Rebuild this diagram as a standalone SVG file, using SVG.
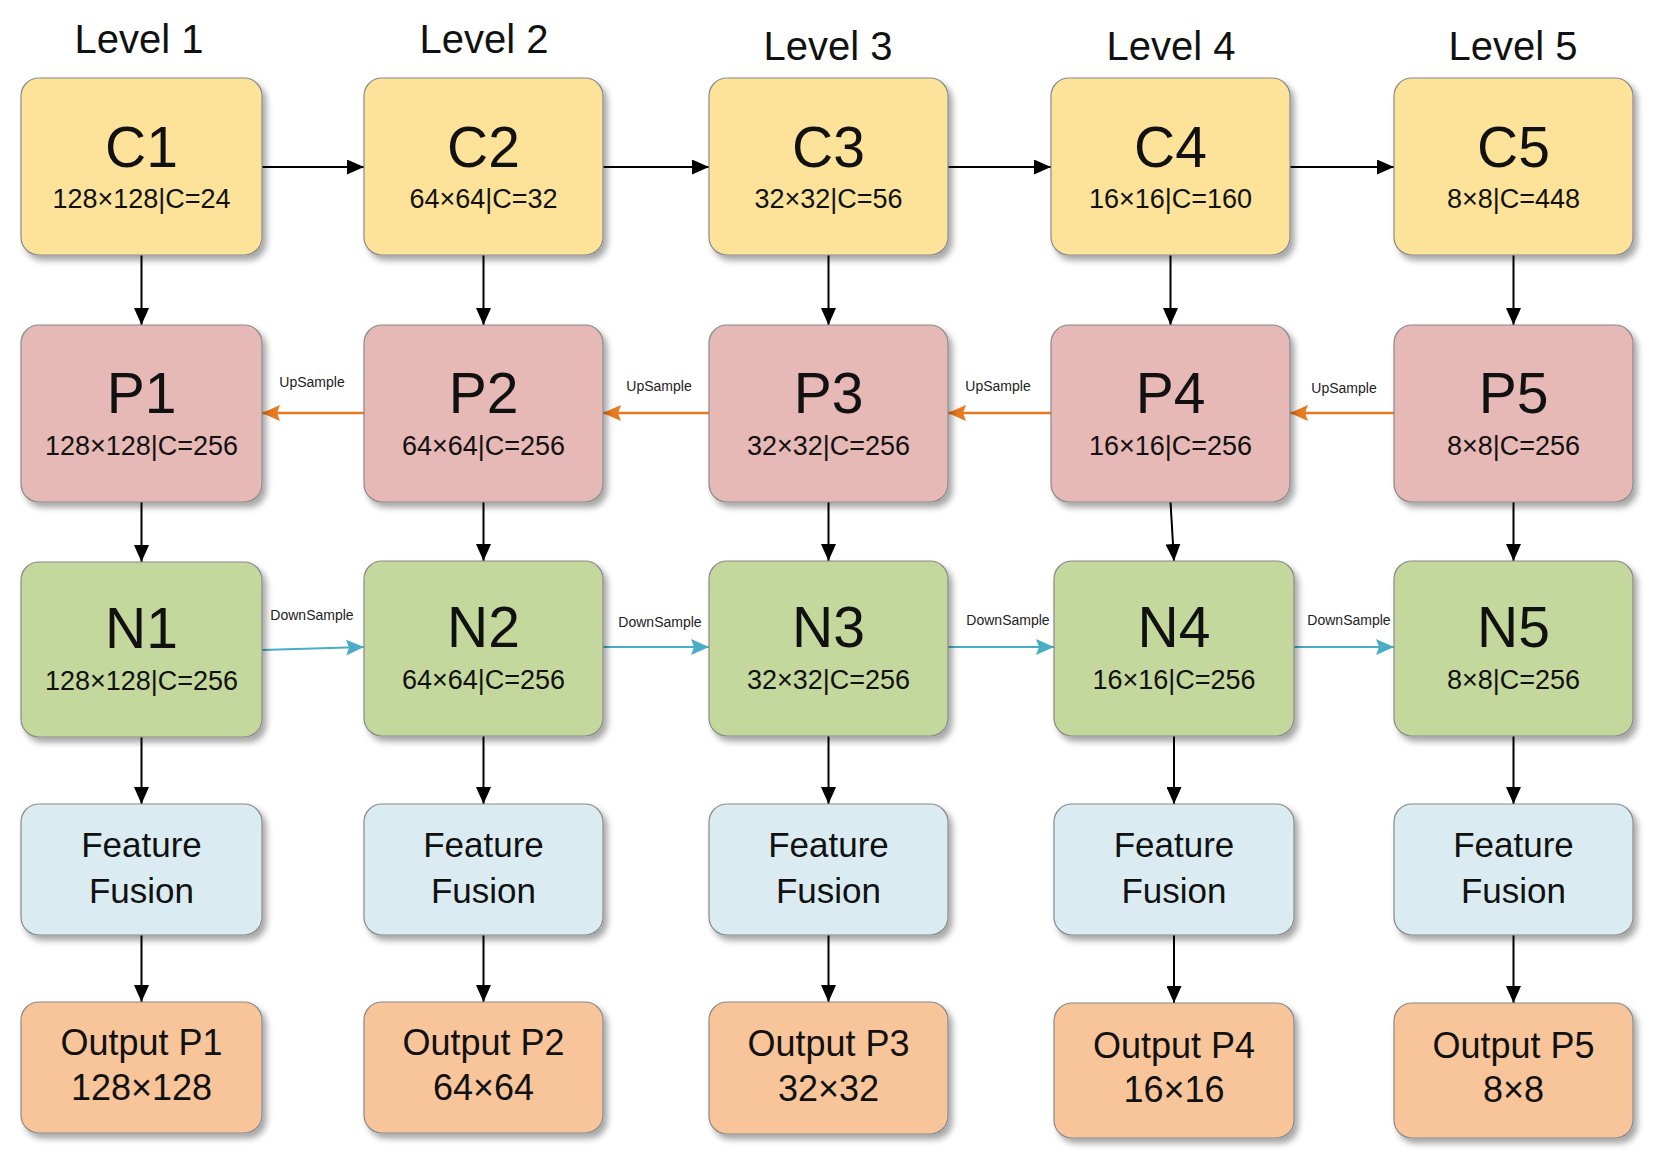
<svg xmlns="http://www.w3.org/2000/svg" width="1665" height="1173" viewBox="0 0 1665 1173">
<style>
text{font-family:"Liberation Sans",Arial,sans-serif;fill:#111;text-anchor:middle}
.lvl{font-size:40px}
.big{font-size:57px}
.sub{font-size:27px}
.ff{font-size:35px}
.out{font-size:36px}
.lab{font-size:14px;fill:#222}
.box{stroke:#8a8a8a;stroke-width:1.2;filter:url(#sh)}
.c{fill:#FDE39A}.p{fill:#E6B8B6}.n{fill:#C4D79C}.f{fill:#DAECF2}.o{fill:#F8C59B}
.blk{stroke:#000;stroke-width:2;fill:none;marker-end:url(#ab)}
.up{stroke:#E97A1F;stroke-width:2.5;fill:none;marker-end:url(#ao)}
.dn{stroke:#4BACC6;stroke-width:2.2;fill:none;marker-end:url(#ac)}
</style>
<defs>
<filter id="sh" x="-10%" y="-10%" width="125%" height="130%">
<feDropShadow dx="4" dy="5" stdDeviation="3" flood-color="#000" flood-opacity="0.35"/>
</filter>
<marker id="ab" markerUnits="userSpaceOnUse" viewBox="0 0 17 15" refX="17" refY="7.5" markerWidth="17" markerHeight="15" orient="auto"><path d="M0,0 L17,7.5 L0,15 z" fill="#000"/></marker>
<marker id="ao" markerUnits="userSpaceOnUse" viewBox="0 0 18 16" refX="18" refY="8" markerWidth="18" markerHeight="16" orient="auto"><path d="M0,0 L18,8 L0,16 L3,8 z" fill="#E97A1F"/></marker>
<marker id="ac" markerUnits="userSpaceOnUse" viewBox="0 0 18 16" refX="18" refY="8" markerWidth="18" markerHeight="16" orient="auto"><path d="M0,0 L18,8 L0,16 L3,8 z" fill="#4BACC6"/></marker>
</defs>
<rect width="1665" height="1173" fill="#fff"/>

<g id="levels">
<text class="lvl" x="139" y="53">Level 1</text>
<text class="lvl" x="484" y="53">Level 2</text>
<text class="lvl" x="828" y="60">Level 3</text>
<text class="lvl" x="1171" y="60">Level 4</text>
<text class="lvl" x="1513" y="60">Level 5</text>
</g>

<g id="connectors">
<line class="blk" x1="262" y1="167" x2="364" y2="167"/>
<line class="blk" x1="603" y1="167" x2="709" y2="167"/>
<line class="blk" x1="948" y1="167" x2="1051" y2="167"/>
<line class="blk" x1="1290" y1="167" x2="1394" y2="167"/>

<line class="blk" x1="141.5" y1="255" x2="141.5" y2="325"/>
<line class="blk" x1="483.5" y1="255" x2="483.5" y2="325"/>
<line class="blk" x1="828.5" y1="255" x2="828.5" y2="325"/>
<line class="blk" x1="1170.5" y1="255" x2="1170.5" y2="325"/>
<line class="blk" x1="1513.5" y1="255" x2="1513.5" y2="325"/>

<line class="blk" x1="141.5" y1="502" x2="141.5" y2="562"/>
<line class="blk" x1="483.5" y1="502" x2="483.5" y2="561"/>
<line class="blk" x1="828.5" y1="502" x2="828.5" y2="561"/>
<line class="blk" x1="1170.5" y1="502" x2="1174" y2="561"/>
<line class="blk" x1="1513.5" y1="502" x2="1513.5" y2="561"/>

<line class="blk" x1="141.5" y1="737" x2="141.5" y2="804"/>
<line class="blk" x1="483.5" y1="736" x2="483.5" y2="804"/>
<line class="blk" x1="828.5" y1="736" x2="828.5" y2="804"/>
<line class="blk" x1="1174" y1="736" x2="1174" y2="804"/>
<line class="blk" x1="1513.5" y1="736" x2="1513.5" y2="804"/>

<line class="blk" x1="141.5" y1="935" x2="141.5" y2="1002"/>
<line class="blk" x1="483.5" y1="935" x2="483.5" y2="1002"/>
<line class="blk" x1="828.5" y1="935" x2="828.5" y2="1002"/>
<line class="blk" x1="1174" y1="935" x2="1174" y2="1003"/>
<line class="blk" x1="1513.5" y1="935" x2="1513.5" y2="1003"/>

<line class="up" x1="364" y1="413" x2="262" y2="413"/>
<line class="up" x1="709" y1="413" x2="603" y2="413"/>
<line class="up" x1="1051" y1="413" x2="948" y2="413"/>
<line class="up" x1="1394" y1="413" x2="1290" y2="413"/>
<text class="lab" x="312" y="387">UpSample</text>
<text class="lab" x="659" y="391">UpSample</text>
<text class="lab" x="998" y="391">UpSample</text>
<text class="lab" x="1344" y="393">UpSample</text>

<line class="dn" x1="262" y1="650" x2="364" y2="647"/>
<line class="dn" x1="603" y1="647" x2="709" y2="647"/>
<line class="dn" x1="948" y1="647" x2="1054" y2="647"/>
<line class="dn" x1="1294" y1="647" x2="1394" y2="647"/>
<text class="lab" x="312" y="620">DownSample</text>
<text class="lab" x="660" y="627">DownSample</text>
<text class="lab" x="1008" y="625">DownSample</text>
<text class="lab" x="1349" y="625">DownSample</text>
</g>

<g id="C1"><rect class="box c" x="21" y="78" width="241" height="177" rx="18"/><text class="big" x="141.5" y="167">C1</text><text class="sub" x="141.5" y="208">128×128|C=24</text></g>
<g id="C2"><rect class="box c" x="364" y="78" width="239" height="177" rx="18"/><text class="big" x="483.5" y="167">C2</text><text class="sub" x="483.5" y="208">64×64|C=32</text></g>
<g id="C3"><rect class="box c" x="709" y="78" width="239" height="177" rx="18"/><text class="big" x="828.5" y="167">C3</text><text class="sub" x="828.5" y="208">32×32|C=56</text></g>
<g id="C4"><rect class="box c" x="1051" y="78" width="239" height="177" rx="18"/><text class="big" x="1170.5" y="167">C4</text><text class="sub" x="1170.5" y="208">16×16|C=160</text></g>
<g id="C5"><rect class="box c" x="1394" y="78" width="239" height="177" rx="18"/><text class="big" x="1513.5" y="167">C5</text><text class="sub" x="1513.5" y="208">8×8|C=448</text></g>

<g id="P1"><rect class="box p" x="21" y="325" width="241" height="177" rx="18"/><text class="big" x="141.5" y="413">P1</text><text class="sub" x="141.5" y="455">128×128|C=256</text></g>
<g id="P2"><rect class="box p" x="364" y="325" width="239" height="177" rx="18"/><text class="big" x="483.5" y="413">P2</text><text class="sub" x="483.5" y="455">64×64|C=256</text></g>
<g id="P3"><rect class="box p" x="709" y="325" width="239" height="177" rx="18"/><text class="big" x="828.5" y="413">P3</text><text class="sub" x="828.5" y="455">32×32|C=256</text></g>
<g id="P4"><rect class="box p" x="1051" y="325" width="239" height="177" rx="18"/><text class="big" x="1170.5" y="413">P4</text><text class="sub" x="1170.5" y="455">16×16|C=256</text></g>
<g id="P5"><rect class="box p" x="1394" y="325" width="239" height="177" rx="18"/><text class="big" x="1513.5" y="413">P5</text><text class="sub" x="1513.5" y="455">8×8|C=256</text></g>

<g id="N1"><rect class="box n" x="21" y="562" width="241" height="175" rx="18"/><text class="big" x="141.5" y="648">N1</text><text class="sub" x="141.5" y="690">128×128|C=256</text></g>
<g id="N2"><rect class="box n" x="364" y="561" width="239" height="175" rx="18"/><text class="big" x="483.5" y="647">N2</text><text class="sub" x="483.5" y="689">64×64|C=256</text></g>
<g id="N3"><rect class="box n" x="709" y="561" width="239" height="175" rx="18"/><text class="big" x="828.5" y="647">N3</text><text class="sub" x="828.5" y="689">32×32|C=256</text></g>
<g id="N4"><rect class="box n" x="1054" y="561" width="240" height="175" rx="18"/><text class="big" x="1174" y="647">N4</text><text class="sub" x="1174" y="689">16×16|C=256</text></g>
<g id="N5"><rect class="box n" x="1394" y="561" width="239" height="175" rx="18"/><text class="big" x="1513.5" y="647">N5</text><text class="sub" x="1513.5" y="689">8×8|C=256</text></g>

<g id="FF1"><rect class="box f" x="21" y="804" width="241" height="131" rx="18"/><text class="ff" x="141.5" y="857">Feature</text><text class="ff" x="141.5" y="903">Fusion</text></g>
<g id="FF2"><rect class="box f" x="364" y="804" width="239" height="131" rx="18"/><text class="ff" x="483.5" y="857">Feature</text><text class="ff" x="483.5" y="903">Fusion</text></g>
<g id="FF3"><rect class="box f" x="709" y="804" width="239" height="131" rx="18"/><text class="ff" x="828.5" y="857">Feature</text><text class="ff" x="828.5" y="903">Fusion</text></g>
<g id="FF4"><rect class="box f" x="1054" y="804" width="240" height="131" rx="18"/><text class="ff" x="1174" y="857">Feature</text><text class="ff" x="1174" y="903">Fusion</text></g>
<g id="FF5"><rect class="box f" x="1394" y="804" width="239" height="131" rx="18"/><text class="ff" x="1513.5" y="857">Feature</text><text class="ff" x="1513.5" y="903">Fusion</text></g>

<g id="O1"><rect class="box o" x="21" y="1002" width="241" height="131" rx="18"/><text class="out" x="141.5" y="1055">Output P1</text><text class="out" x="141.5" y="1100">128×128</text></g>
<g id="O2"><rect class="box o" x="364" y="1002" width="239" height="131" rx="18"/><text class="out" x="483.5" y="1055">Output P2</text><text class="out" x="483.5" y="1100">64×64</text></g>
<g id="O3"><rect class="box o" x="709" y="1002" width="239" height="132" rx="18"/><text class="out" x="828.5" y="1056">Output P3</text><text class="out" x="828.5" y="1101">32×32</text></g>
<g id="O4"><rect class="box o" x="1054" y="1003" width="240" height="135" rx="18"/><text class="out" x="1174" y="1058">Output P4</text><text class="out" x="1174" y="1102">16×16</text></g>
<g id="O5"><rect class="box o" x="1394" y="1003" width="239" height="135" rx="18"/><text class="out" x="1513.5" y="1058">Output P5</text><text class="out" x="1513.5" y="1102">8×8</text></g>
</svg>
